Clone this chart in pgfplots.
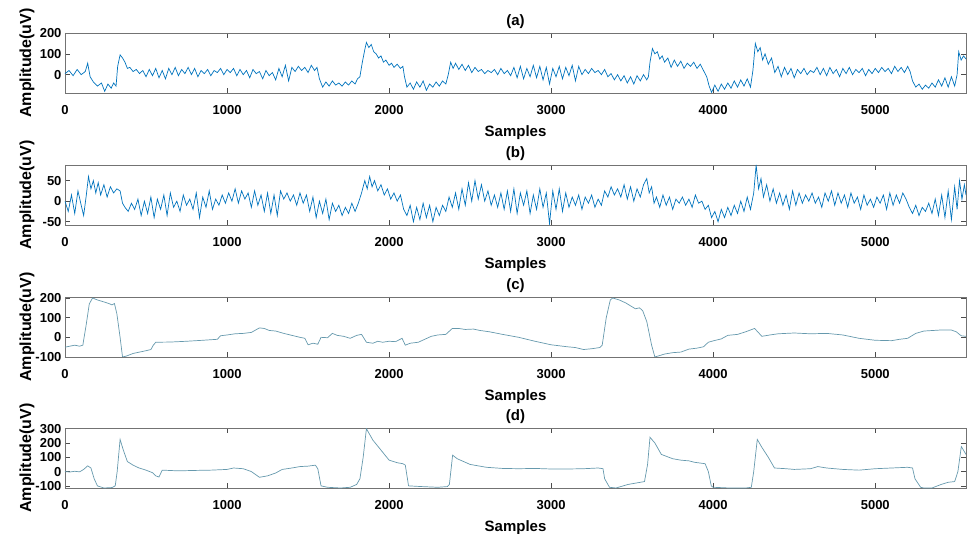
\documentclass[border=0pt]{standalone}
\usepackage{fontspec}
\setmainfont{Liberation Sans}
\usepackage{pgfplots}
\pgfplotsset{compat=1.18}
\definecolor{mblue}{rgb}{0.0,0.45,0.74}
\definecolor{mteal}{rgb}{0.40,0.60,0.68}
\pgfplotsset{eeg/.style={width=901pt, height=60pt, scale only axis, anchor=north west,
  xmin=0, xmax=5560, xtick={0,1000,...,5000}, scaled ticks=false,
  tick align=inside, xtick pos=both, ytick pos=both, major tick length=5pt,
  axis line style={black!55}, tick style={black!70, line width=0.6pt},
  /pgf/number format/1000 sep={}, /pgf/number format/assume math mode=true,
  ticklabel style={font=\fontsize{13}{15}\selectfont\bfseries},
  xticklabel style={yshift=-9pt},
  label style={font=\fontsize{15}{18}\selectfont\bfseries},
  title style={font=\fontsize{15}{18}\selectfont\bfseries, yshift=-5pt},
  xlabel={Samples}, ylabel={Amplitude(uV)},
  xlabel style={yshift=-4pt},
  ylabel style={at={(axis description cs:0,0.5)}, anchor=center, yshift=38pt, font=\fontsize{16}{18}\selectfont\bfseries},
  }}
\begin{document}
\begin{tikzpicture}
\useasboundingbox (-65pt,33pt) rectangle (906pt,-501pt);

% (a)
\begin{axis}[eeg, at={(0pt,0pt)}, ymin=-88, ymax=200, ytick={0,100,200}, title={(a)}]
\addplot[mblue, line width=0.7pt] coordinates {
(0,5) (25,20) (50,-5) (75,25) (100,0) (125,15) (140,55) (155,-10) (175,-35) (200,-55) (225,-40) (245,-80) (265,-45) (285,-65) (300,-40) (315,-55)
(325,40) (340,95) (355,80) (370,60) (385,30) (400,35) (420,15) (440,25) (460,5) (480,20) (500,-10) (520,25) (540,-5) (560,30) (580,-15) (600,20) (620,-20) (640,30) (660,0) (680,35) (700,-5) (720,25) (740,5) (760,35) (780,0) (800,30) (820,-10) (840,20) (860,5) (880,25) (900,-5) (920,20) (940,10) (960,30) (980,0) (1000,25) (1020,10) (1040,30) (1060,-5) (1080,25) (1100,0) (1120,20) (1140,-15) (1160,25) (1180,5) (1200,15) (1220,-20) (1240,20) (1260,-5) (1280,10) (1300,-25) (1320,30) (1340,-10) (1360,45) (1380,-30) (1400,35) (1420,15) (1440,40) (1460,20) (1480,35) (1500,10) (1520,45) (1540,20) (1555,35)
(1570,-20) (1590,-60) (1610,-35) (1630,-55) (1650,-30) (1670,-50) (1690,-40) (1710,-55) (1730,-35) (1750,-50) (1770,-30) (1790,-45) (1805,-20) (1820,-10)
(1835,60) (1850,120) (1860,155) (1875,130) (1890,145) (1905,110) (1920,100) (1935,80) (1950,90) (1965,60) (1980,70) (2000,45) (2015,55) (2030,35) (2050,50) (2070,30) (2085,40)
(2095,-10) (2110,-60) (2130,-40) (2150,-70) (2170,-35) (2190,-60) (2210,-30) (2230,-75) (2250,-45) (2270,-60) (2290,-35) (2310,-55) (2330,-30) (2350,-45)
(2365,0) (2380,60) (2395,30) (2410,55) (2430,25) (2450,50) (2470,20) (2490,45) (2510,10) (2530,35) (2550,15) (2570,25) (2590,5) (2610,20) (2630,10) (2650,25) (2670,0) (2690,30) (2710,5) (2730,20) (2750,-5) (2770,35) (2790,-15) (2810,40) (2830,-20) (2850,30) (2870,-10) (2890,45) (2910,-15) (2930,40) (2950,-25) (2970,35) (2990,-45) (3010,30) (3030,-10) (3050,40) (3070,-20) (3090,35) (3110,-5) (3130,45) (3150,-30) (3170,40) (3190,0) (3210,25) (3230,5) (3250,30) (3270,10) (3290,20) (3310,0) (3330,25)
(3350,-10) (3370,5) (3390,-25) (3410,0) (3430,-30) (3450,-5) (3470,-40) (3490,-10) (3510,-45) (3530,-5) (3550,-30) (3570,0) (3590,-25) (3600,-10)
(3610,60) (3625,125) (3640,100) (3655,110) (3670,75) (3685,90) (3700,60) (3720,80) (3740,35) (3760,70) (3780,40) (3800,65) (3820,30) (3840,55) (3860,40) (3880,60) (3900,30) (3920,50) (3940,20) (3960,-10)
(3975,-55) (3990,-85) (4010,-50) (4030,-80) (4050,-45) (4070,-70) (4090,-40) (4110,-65) (4130,-30) (4150,-60) (4170,-25) (4190,-55) (4210,-20) (4230,-60)
(4245,20) (4260,150) (4275,110) (4290,130) (4305,70) (4320,100) (4340,50) (4360,80) (4380,10) (4400,40) (4420,-10) (4440,35) (4460,0) (4480,30) (4500,-15) (4520,25) (4540,5) (4560,30) (4580,0) (4600,20) (4620,10) (4640,35) (4660,0) (4680,30) (4700,-5) (4720,35) (4740,5) (4760,25) (4780,-10) (4800,30) (4820,5) (4840,35) (4860,0) (4880,25) (4900,10) (4920,30) (4940,-5) (4960,25) (4980,5) (5000,30) (5020,10) (5040,35) (5060,15) (5080,30) (5100,5) (5120,40) (5140,15) (5160,35) (5180,10) (5200,40) (5215,15)
(5230,-30) (5250,-60) (5270,-45) (5290,-70) (5310,-50) (5330,-65) (5350,-40) (5370,-60) (5390,-25) (5410,-55) (5430,-15) (5450,-60) (5470,-10) (5490,-55) (5505,0)
(5515,110) (5530,70) (5545,90) (5560,75)
};
\end{axis}

% (b)
\begin{axis}[eeg, at={(0pt,-132pt)}, ymin=-58, ymax=88, ytick={-50,0,50}, title={(b)}]
\addplot[mblue, line width=0.7pt] coordinates {
(0,0) (20,-25) (40,15) (60,-30) (80,25) (100,-10) (115,-35) (130,10) (145,60) (160,30) (175,50) (190,20) (205,45) (220,15) (240,40) (260,10) (280,35) (300,20) (320,30) (340,25)
(355,-5) (370,-15) (390,-25) (410,-5) (430,-20) (450,5) (470,-35) (490,0) (510,-30) (530,10) (550,-40) (570,5) (590,-20) (610,15) (630,-35) (650,20) (670,-15) (690,0) (710,-25) (730,15) (750,-10) (770,5) (790,-20) (810,20) (830,-40) (850,10) (870,-15) (890,25) (910,-20) (930,5) (950,-10) (970,15) (990,-5)
(1010,20) (1030,0) (1050,30) (1070,-5) (1090,25) (1110,5) (1130,20) (1150,-15) (1170,25) (1190,-10) (1210,15) (1230,-25) (1250,20) (1270,-30) (1290,15) (1310,-35) (1330,25) (1350,5) (1370,20) (1390,0) (1410,15) (1430,-10) (1450,20) (1470,-5) (1490,15)
(1510,-25) (1530,10) (1550,-40) (1570,0) (1590,-30) (1610,5) (1630,-45) (1650,-5) (1670,-25) (1690,-10) (1710,-35) (1730,-15) (1750,-30) (1770,-5) (1790,-25) (1810,-5)
(1830,20) (1850,50) (1865,30) (1880,60) (1895,35) (1910,50) (1930,25) (1950,40) (1970,15) (1990,30) (2010,5) (2030,20) (2050,0) (2070,15)
(2090,-20) (2110,-35) (2130,-10) (2150,-50) (2170,-15) (2190,-45) (2210,-5) (2230,-40) (2250,-10) (2270,-50) (2290,-15) (2310,-35) (2330,-10) (2350,-25)
(2370,10) (2390,-15) (2410,20) (2430,-20) (2450,30) (2470,-10) (2490,45) (2510,0) (2530,50) (2550,5) (2570,40) (2590,0) (2610,25) (2630,-10) (2650,15) (2670,-15) (2690,20) (2710,-20) (2730,25) (2750,-25) (2770,30) (2790,-30) (2810,20) (2830,-10) (2850,25) (2870,-30) (2890,15) (2910,-20) (2930,30) (2950,-15) (2970,20) (2990,-55) (3010,25) (3030,-20) (3050,30) (3070,-25) (3090,20) (3110,-15) (3130,10) (3150,-10) (3170,15) (3190,-20) (3210,10) (3230,-5) (3250,15) (3270,-15) (3290,5) (3310,-10)
(3330,25) (3350,10) (3370,35) (3390,15) (3410,30) (3430,10) (3450,40) (3470,5) (3490,35) (3510,0) (3530,30) (3550,10) (3570,40) (3590,55) (3605,20) (3620,35)
(3635,-5) (3650,10) (3670,-15) (3690,15) (3710,-10) (3730,10) (3750,-20) (3770,5) (3790,-5) (3810,10) (3830,-10) (3850,5) (3870,-15) (3890,15) (3910,-5) (3930,0)
(3950,-20) (3970,-10) (3990,-40) (4010,-25) (4030,-50) (4050,-20) (4070,-40) (4090,-15) (4110,-35) (4130,-10) (4150,-30) (4170,0) (4190,-25) (4210,10) (4230,-20) (4250,20)
(4265,88) (4280,30) (4295,55) (4310,10) (4330,40) (4350,0) (4370,30) (4390,-5) (4410,20) (4430,-10) (4450,15) (4470,-20) (4490,25) (4510,-10) (4530,20) (4550,-5) (4570,15) (4590,0) (4610,20) (4630,-5) (4650,10) (4670,-15) (4690,20) (4710,0) (4730,25) (4750,-10) (4770,20) (4790,-5) (4810,15) (4830,-15) (4850,20) (4870,-5) (4890,10) (4910,-20) (4930,15) (4950,-10) (4970,5) (4990,-15) (5010,10) (5030,-5) (5050,15) (5070,-20) (5090,20) (5110,-10) (5130,15) (5150,-5) (5170,20) (5190,5)
(5210,-15) (5230,-30) (5250,-10) (5270,-35) (5290,-15) (5310,-25) (5330,-5) (5350,-30) (5370,5) (5390,-35) (5410,15) (5430,-40) (5450,25) (5470,-45) (5490,35) (5505,-20) (5520,50) (5535,5) (5550,40) (5560,15)
};
\end{axis}

% (c)
\begin{axis}[eeg, at={(0pt,-264pt)}, ymin=-100, ymax=205, ytick={-100,0,100,200}, title={(c)}]
\addplot[mteal, line width=0.7pt] coordinates {
(0,-50) (30,-45) (60,-40) (90,-45) (110,-40) (130,60) (150,170) (170,200) (200,190) (240,180) (270,172) (290,165) (305,172) (320,120) (340,0) (355,-100)
(380,-95) (420,-82) (460,-75) (500,-68) (530,-62) (545,-40) (560,-25) (650,-24) (750,-20) (850,-15) (940,-10) (960,8) (1000,12) (1050,18) (1100,20) (1150,25) (1200,48) (1230,45) (1260,35) (1300,32) (1350,20) (1400,10) (1450,0) (1480,-5) (1500,-38) (1530,-30) (1560,-35) (1580,0) (1620,-2) (1650,20) (1680,10) (1720,5) (1760,-5) (1800,10) (1830,15) (1860,-25) (1900,-30) (1930,-20) (1960,-25) (2000,-20) (2040,-22) (2080,-5) (2100,-40) (2130,-30) (2180,-25) (2220,-10) (2260,5) (2300,12) (2350,15) (2390,45) (2430,45) (2470,40) (2520,42) (2560,35) (2620,28) (2700,15) (2800,0) (2900,-20) (3000,-38) (3100,-48) (3150,-52) (3200,-62) (3250,-58) (3300,-52) (3315,-40)
(3340,100) (3365,190) (3380,200) (3420,190) (3460,175) (3500,155) (3520,145) (3545,150) (3565,135) (3590,80) (3620,-40) (3640,-100)
(3700,-85) (3750,-78) (3800,-75) (3850,-60) (3900,-55) (3940,-48) (3970,-25) (4000,-18) (4050,-8) (4090,10) (4150,15) (4200,28) (4255,45) (4275,28) (4300,5) (4350,12) (4400,18) (4500,22) (4600,18) (4700,20) (4800,12) (4900,-5) (5000,-15) (5100,-17) (5150,-10) (5200,-5) (5250,20) (5300,32) (5400,37) (5470,37) (5500,28) (5530,8) (5560,5)
};
\end{axis}

% (d)
\begin{axis}[eeg, at={(0pt,-395pt)}, ymin=-115, ymax=305, ytick={-100,0,100,200,300}, title={(d)}]
\addplot[mteal, line width=0.7pt] coordinates {
(0,0) (30,-3) (60,2) (90,-2) (115,15) (140,40) (160,25) (180,-50) (200,-100) (240,-115) (290,-112) (310,-100) (322,0) (340,225) (360,150) (385,70) (420,45) (455,26) (500,10) (540,-8) (560,-30) (580,-38) (600,10) (700,5) (800,8) (900,10) (1000,15) (1040,25) (1100,20) (1150,0) (1200,-40) (1250,-30) (1300,-10) (1340,15) (1400,25) (1450,35) (1500,38) (1545,45) (1560,20)
(1580,-100) (1620,-110) (1700,-115) (1760,-110) (1800,-90) (1820,-50) (1840,100) (1860,300) (1900,220) (1950,150) (2000,80) (2050,62) (2085,55) (2100,45) (2120,-100) (2200,-105) (2300,-110) (2360,-105) (2372,-90) (2392,115) (2420,90) (2500,50) (2600,30) (2700,22) (2800,20) (2900,22) (3000,18) (3100,18) (3200,20) (3290,25) (3320,20)
(3330,-50) (3360,-110) (3400,-115) (3475,-90) (3576,-70) (3595,50) (3610,240) (3640,200) (3680,120) (3750,90) (3800,80) (3850,75) (3885,65) (3950,55) (3970,0) (3988,-100) (4000,-110) (4100,-115) (4200,-115) (4235,-110) (4250,0) (4272,225) (4300,170) (4340,100) (4378,25) (4450,20) (4500,15) (4600,20) (4646,35) (4700,25) (4800,15) (4900,10) (5000,20) (5100,25) (5200,30) (5230,25)
(5245,-50) (5280,-110) (5300,-115) (5350,-115) (5407,-90) (5450,-75) (5490,-70) (5510,0) (5531,175) (5560,120)
};
\end{axis}
\end{tikzpicture}
\end{document}
